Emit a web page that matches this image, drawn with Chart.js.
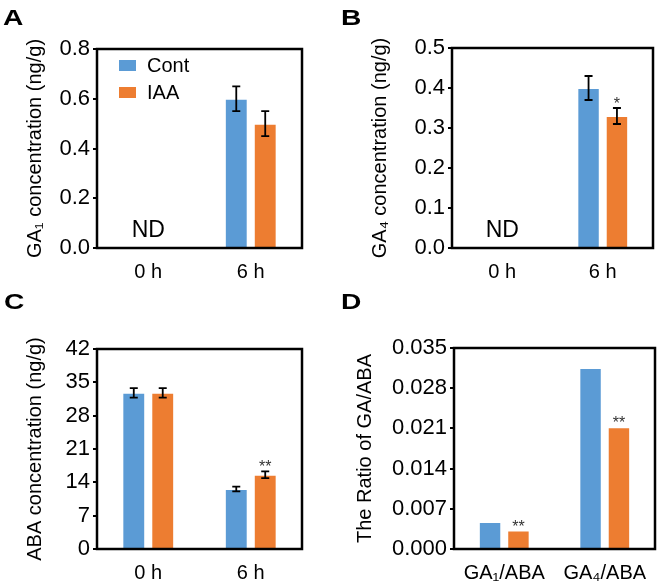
<!DOCTYPE html>
<html><head><meta charset="utf-8">
<script src="https://cdn.jsdelivr.net/npm/chart.js@4"></script>
<style>
html,body{margin:0;padding:0;background:#fff;}
#wrap{position:relative;width:660px;height:584px;overflow:hidden;}
canvas{position:absolute;}
</style></head><body>
<div id="wrap">
<canvas id="cA" width="330" height="290" style="left:0;top:0;width:330px;height:290px"></canvas>
<canvas id="cB" width="330" height="290" style="left:330px;top:0;width:330px;height:290px"></canvas>
<canvas id="cC" width="330" height="298" style="left:0;top:286px;width:330px;height:298px"></canvas>
<canvas id="cD" width="330" height="298" style="left:330px;top:286px;width:330px;height:298px"></canvas>
</div>
<script>
// ---- data ----
const seriesNames = ['Cont', 'IAA'];
const timeCats = ['0 h', '6 h'];
const ratioCats = ['GA\u2081/ABA', 'GA\u2084/ABA'];

const ga1Cont = [null, 0.60];
const ga1IAA = [null, 0.50];
const ga1ContErr = [null, 0.05];
const ga1IAAErr = [null, 0.05];
const ga1IAASig = [null, null];

const ga4Cont = [null, 0.40];
const ga4IAA = [null, 0.33];
const ga4ContErr = [null, 0.03];
const ga4IAAErr = [null, 0.02];
const ga4IAASig = [null, '*'];

const abaCont = [32.8, 12.6];
const abaIAA = [32.8, 15.6];
const abaContErr = [1.0, 0.5];
const abaIAAErr = [1.0, 0.7];
const abaIAASig = [null, '**'];

const ratioCont = [0.0047, 0.0315];
const ratioIAA = [0.0032, 0.0212];
const ratioIAASig = ['**', '**'];

const ndLabels = ['ND', null];

const yTicksA = ['0.0', '0.2', '0.4', '0.6', '0.8'];
const yTicksB = ['0.0', '0.1', '0.2', '0.3', '0.4', '0.5'];
const yTicksC = ['0', '7', '14', '21', '28', '35', '42'];
const yTicksD = ['0.000', '0.007', '0.014', '0.021', '0.028', '0.035'];

// ---- styling ----
const FF = "'Liberation Sans', Arial, Helvetica, sans-serif";
const BLUE = '#5B9BD5';
const ORANGE = '#ED7D31';

const panelPlugin = {
  id: 'panel',
  afterDatasetsDraw(chart, args, opts) {
    const ctx = chart.ctx;
    const ca = chart.chartArea;
    const ys = chart.scales.y;
    const xs = chart.scales.x;
    ctx.save();
    // error bars
    ctx.strokeStyle = '#000';
    ctx.lineWidth = 1.8;
    chart.data.datasets.forEach((ds, di) => {
      const meta = chart.getDatasetMeta(di);
      meta.data.forEach((bar, i) => {
        const v = ds.data[i];
        if (v == null) return;
        const e = ds.err ? ds.err[i] : null;
        let topVal = v;
        if (e != null) {
          topVal = v + e;
          const yT = ys.getPixelForValue(v + e), yB = ys.getPixelForValue(v - e);
          ctx.beginPath();
          ctx.moveTo(bar.x, yT); ctx.lineTo(bar.x, yB);
          ctx.moveTo(bar.x - 4, yT); ctx.lineTo(bar.x + 4, yT);
          ctx.moveTo(bar.x - 4, yB); ctx.lineTo(bar.x + 4, yB);
          ctx.stroke();
        }
        const s = ds.sig ? ds.sig[i] : null;
        if (s) {
          ctx.fillStyle = '#333';
          ctx.font = '16px ' + FF;
          ctx.textAlign = 'center';
          ctx.textBaseline = 'alphabetic';
          ctx.fillText(s, bar.x, ys.getPixelForValue(topVal) + 1);
        }
      });
    });
    // ND labels
    if (opts.nd) {
      ctx.fillStyle = '#000';
      ctx.font = '23px ' + FF;
      ctx.textAlign = 'center';
      ctx.textBaseline = 'alphabetic';
      opts.nd.forEach((t, i) => {
        if (t) ctx.fillText(t, xs.getPixelForValue(i), ca.bottom - 11);
      });
    }
    // frame
    ctx.strokeStyle = '#000';
    ctx.lineWidth = 2.5;
    ctx.strokeRect(ca.left, ca.top, ca.right - ca.left, ca.bottom - ca.top);
    // legend
    if (opts.legend) {
      chart.data.datasets.forEach((ds, di) => {
        const lx = ca.left + 22, ly = ca.top + 11 + di * 27;
        ctx.fillStyle = ds.backgroundColor;
        ctx.fillRect(lx, ly, 17, 11);
        ctx.fillStyle = '#000';
        ctx.font = '20px ' + FF;
        ctx.textAlign = 'left';
        ctx.textBaseline = 'middle';
        ctx.fillText(ds.label, lx + 28, ly + 6);
      });
    }
    // panel letter
    ctx.fillStyle = '#000';
    ctx.font = 'bold 22px ' + FF;
    ctx.textAlign = 'left';
    ctx.textBaseline = 'alphabetic';
    ctx.translate(opts.letterX, opts.letterY);
    ctx.scale(1.28, 1);
    ctx.fillText(opts.letter, 0, 0);
    ctx.restore();
  }
};

function makeChart(id, o) {
  return new Chart(document.getElementById(id), {
    type: 'bar',
    data: {
      labels: o.cats,
      datasets: [
        { label: seriesNames[0], data: o.cont, err: o.contErr, sig: null,
          backgroundColor: BLUE, borderColor: 'rgba(255,255,255,0.45)', borderWidth: 1 },
        { label: seriesNames[1], data: o.iaa, err: o.iaaErr, sig: o.iaaSig,
          backgroundColor: ORANGE, borderColor: 'rgba(255,255,255,0.45)', borderWidth: 1 }
      ]
    },
    options: {
      responsive: false,
      animation: false,
      devicePixelRatio: 1,
      layout: { padding: { left: 0, right: o.padR, top: o.padT, bottom: 0 } },
      datasets: { bar: { categoryPercentage: 0.565, barPercentage: 0.79 } },
      plugins: {
        legend: { display: false },
        tooltip: { enabled: false },
        panel: { nd: o.nd, legend: o.legend, letter: o.letter, letterX: o.letterX, letterY: o.letterY }
      },
      scales: {
        x: {
          grid: { display: false },
          border: { display: false },
          ticks: { font: { size: 20, family: FF }, color: '#000', padding: 4, maxRotation: 0, autoSkip: false },
          afterFit(s) { s.height = o.xH; }
        },
        y: {
          min: +o.yt[0], max: +o.yt[o.yt.length - 1],
          afterBuildTicks(s) { s.ticks = o.yt.map(v => ({ value: +v })); },
          ticks: { callback: (v, i) => o.yt[i], font: { size: 22, family: FF }, color: '#000', padding: 3 },
          grid: { drawOnChartArea: false, drawTicks: true, tickLength: 4, color: '#000', lineWidth: 2 },
          border: { display: false },
          title: { display: true, text: o.title, font: { size: 20, family: FF }, color: '#000', padding: { top: o.titlePad, bottom: 0 } },
          afterFit(s) { s.width = o.yW; }
        }
      }
    },
    plugins: [panelPlugin]
  });
}

makeChart('cA', { cats: timeCats, cont: ga1Cont, iaa: ga1IAA, contErr: ga1ContErr, iaaErr: ga1IAAErr, iaaSig: ga1IAASig,
  yt: yTicksA, title: 'GA\u2081 concentration (ng/g)', yW: 97, padR: 28, padT: 49, xH: 42, titlePad: 23,
  nd: ndLabels, legend: true, letter: 'A', letterX: 3, letterY: 25 });
makeChart('cB', { cats: timeCats, cont: ga4Cont, iaa: ga4IAA, contErr: ga4ContErr, iaaErr: ga4IAAErr, iaaSig: ga4IAASig,
  yt: yTicksB, title: 'GA\u2084 concentration (ng/g)', yW: 122, padR: 7, padT: 48, xH: 42, titlePad: 38,
  nd: ndLabels, legend: false, letter: 'B', letterX: 11, letterY: 25 });
makeChart('cC', { cats: timeCats, cont: abaCont, iaa: abaIAA, contErr: abaContErr, iaaErr: abaIAAErr, iaaSig: abaIAASig,
  yt: yTicksC, title: 'ABA concentration (ng/g)', yW: 97, padR: 28, padT: 63, xH: 35, titlePad: 23,
  nd: null, legend: false, letter: 'C', letterX: 4, letterY: 23 });
makeChart('cD', { cats: ratioCats, cont: ratioCont, iaa: ratioIAA, contErr: null, iaaErr: null, iaaSig: ratioIAASig,
  yt: yTicksD, title: 'The Ratio of GA/ABA', yW: 124, padR: 5, padT: 62, xH: 35, titlePad: 23,
  nd: null, legend: false, letter: 'D', letterX: 11, letterY: 23 });
</script>
</body></html>
